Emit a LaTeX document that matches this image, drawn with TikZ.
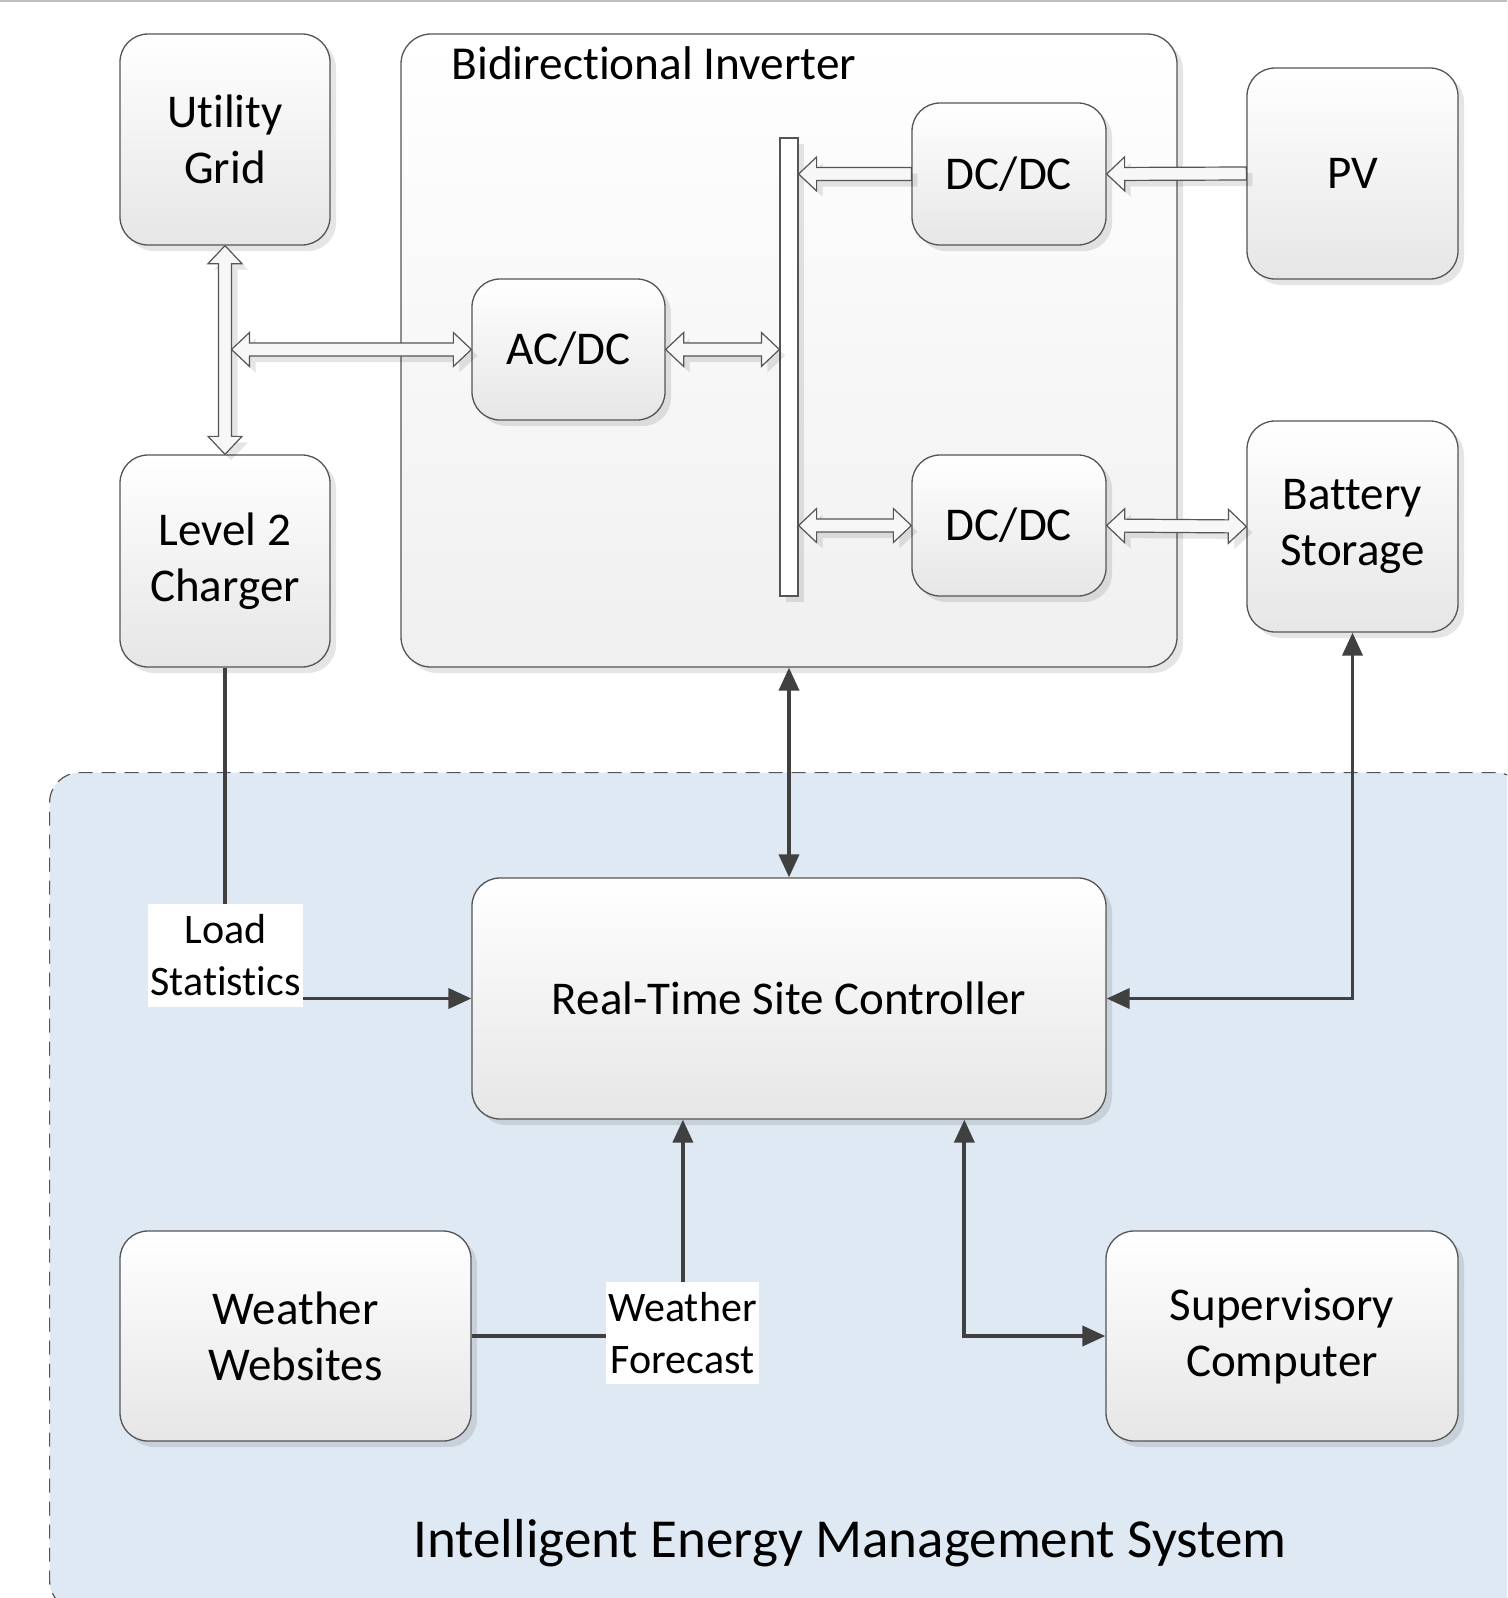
\documentclass[tikz,border=0pt]{standalone}
\usepackage{fontspec}
\setmainfont{Carlito}[Ligatures=NoCommon]
\usetikzlibrary{calc}
\usetikzlibrary{shadows}
\usetikzlibrary{arrows.meta}
\definecolor{boxline}{HTML}{555555}
\definecolor{boxbot}{HTML}{E6E6E6}
\definecolor{darkline}{HTML}{404040}
\definecolor{regionfill}{HTML}{DFE9F3}
\definecolor{arrowfill}{HTML}{F7F7F7}
\newcommand{\boxfont}{\fontsize{47}{56}\selectfont}
\newcommand{\lblfont}{\fontsize{42}{52}\selectfont}
\newcommand{\invfont}{\fontsize{47.3}{56}\selectfont}
\newcommand{\iemsfont}{\fontsize{55}{64}\selectfont}
\newcommand{\hdlen}{18pt}
\newcommand{\hdwid}{17pt}
\newcommand{\shwid}{6.5pt}
\tikzstyle{shade} = [drop shadow={shadow xshift=6pt,shadow yshift=-6pt,fill=black,opacity=0.1}]
\tikzstyle{box} = [rectangle, rounded corners=28pt, draw=boxline, line width=1.3pt, top color=white, bottom color=boxbot, shade, align=center, inner sep=0pt, font=\boxfont]
\tikzstyle{conn} = [draw=darkline, line width=3.8pt, >={Triangle[length=23pt,width=20pt]}]
\tikzstyle{lbl} = [fill=white, inner sep=1pt, align=center, font=\lblfont]
\tikzstyle{hollowtwo} = [draw=boxline, line width=1.2pt, fill=arrowfill, shade,
  to path={
    -- ($(\tikztostart)!\hdlen!(\tikztotarget)!\hdwid!90:(\tikztotarget)$)
    -- ($(\tikztostart)!\hdlen!(\tikztotarget)!\shwid!90:(\tikztotarget)$)
    -- ($(\tikztotarget)!\hdlen!(\tikztostart)!\shwid!-90:(\tikztostart)$)
    -- ($(\tikztotarget)!\hdlen!(\tikztostart)!\hdwid!-90:(\tikztostart)$)
    -- (\tikztotarget)
    -- ($(\tikztotarget)!\hdlen!(\tikztostart)!\hdwid!90:(\tikztostart)$)
    -- ($(\tikztotarget)!\hdlen!(\tikztostart)!\shwid!90:(\tikztostart)$)
    -- ($(\tikztostart)!\hdlen!(\tikztotarget)!\shwid!-90:(\tikztotarget)$)
    -- ($(\tikztostart)!\hdlen!(\tikztotarget)!\hdwid!-90:(\tikztotarget)$)
    -- cycle}]
\tikzstyle{hollowone} = [draw=boxline, line width=1.2pt, fill=arrowfill, shade,
  to path={
    -- ($(\tikztostart)!\shwid!90:(\tikztotarget)$)
    -- ($(\tikztotarget)!\hdlen!(\tikztostart)!\shwid!-90:(\tikztostart)$)
    -- ($(\tikztotarget)!\hdlen!(\tikztostart)!\hdwid!-90:(\tikztostart)$)
    -- (\tikztotarget)
    -- ($(\tikztotarget)!\hdlen!(\tikztostart)!\hdwid!90:(\tikztostart)$)
    -- ($(\tikztotarget)!\hdlen!(\tikztostart)!\shwid!90:(\tikztostart)$)
    -- ($(\tikztostart)!\shwid!-90:(\tikztotarget)$)
    -- cycle}]

\begin{document}
\begin{tikzpicture}[x=1pt, y=-1pt]

  \useasboundingbox (0,0) rectangle (1507,1598);
  \draw [black!25, line width=2pt] (0,1) -- (1507,1);

  % IEMS area
  \begin{scope}
    \clip (0,0) rectangle (1507,1598);
    \node [rectangle, rounded corners=30pt, draw=boxline, fill=regionfill, line width=1.2pt, dash pattern=on 14pt off 9pt, minimum width=1476pt, minimum height=838pt, anchor=north west] (iems) at (49,772) {};
  \end{scope}
  \node [font=\iemsfont] (iemsTitle) at (850,1543) {Intelligent Energy Management System};

  % Inverter block
  \node [rectangle, rounded corners=30pt, draw=boxline, line width=1.3pt, top color=white, bottom color=black!6, shade, minimum width=776pt, minimum height=633pt] (inv) at (789,350.5) {};
  \node [anchor=west, font=\invfont] (invTitle) at (448,63) {Bidirectional Inverter};

  % Boxes
  \node [box, minimum width=210pt, minimum height=211pt] (grid) at (225,139.5) {Utility\\Grid};
  \node [box, minimum width=210pt, minimum height=212pt] (charger) at (225,561) {Level 2\\Charger};
  \node [box, minimum width=211pt, minimum height=211pt] (pv) at (1352.5,173.5) {PV};
  \node [box, minimum width=211pt, minimum height=211pt] (batt) at (1352.5,526.5) {Battery\\Storage};
  \node [box, minimum width=194pt, minimum height=142pt] (dcTop) at (1009,174) {DC/DC};
  \node [box, minimum width=194pt, minimum height=141pt] (dcBot) at (1009,525.5) {DC/DC};
  \node [box, minimum width=193pt, minimum height=141pt] (acdc) at (568.5,349.5) {AC/DC};
  \node [rectangle, draw=boxline, line width=1.2pt, fill=white, shade, minimum width=18pt, minimum height=458pt, inner sep=0pt] (bus) at (789,367) {};

  \node [box, minimum width=634pt, minimum height=241pt] (ctrl) at (789,998.5) {Real-Time Site Controller};
  \node [box, minimum width=351pt, minimum height=210pt] (web) at (295.5,1336) {Weather\\Websites};
  \node [box, minimum width=352pt, minimum height=210pt] (sup) at (1282,1336) {Supervisory\\Computer};

  % Power flow
  \coordinate (tee) at ([xshift=\shwid]grid.south |- acdc.west);
  \coordinate (busAC) at (bus.west |- acdc.east);
  \coordinate (busPV) at (bus.east |- dcTop.west);
  \coordinate (busBat) at (bus.east |- dcBot.west);
  \path [hollowtwo] (grid.south) to (charger.north);
  \path [hollowtwo] (tee) to (acdc.west);
  \path [hollowtwo] (acdc.east) to (busAC);
  \path [hollowone] (dcTop.west) to (busPV);
  \path [hollowone] (pv.west) to (dcTop.east);
  \path [hollowtwo] (busBat) to (dcBot.west);
  \path [hollowtwo] (dcBot.east) to (batt.west);

  % Control links
  \coordinate (wfTop) at ($(ctrl.south west)!0.333!(ctrl.south east)$);
  \coordinate (supTop) at ($(ctrl.south west)!0.776!(ctrl.south east)$);
  \draw [conn, <->] (inv.south) -- (ctrl.north);
  \draw [conn, <->] (ctrl.east) -| (batt.south);
  \draw [conn, ->] (charger.south) |- (ctrl.west);
  \draw [conn, ->] (web.east) -| (wfTop);
  \draw [conn, <->] (supTop) |- (sup.west);

  % Labels
  \node [lbl, minimum width=155pt, minimum height=103pt] (loadLbl) at (225.5,955.5) {Load\\Statistics};
  \node [lbl, minimum width=153pt, minimum height=102pt] (wfLbl) at (682.5,1333) {Weather\\Forecast};

\end{tikzpicture}
\end{document}
